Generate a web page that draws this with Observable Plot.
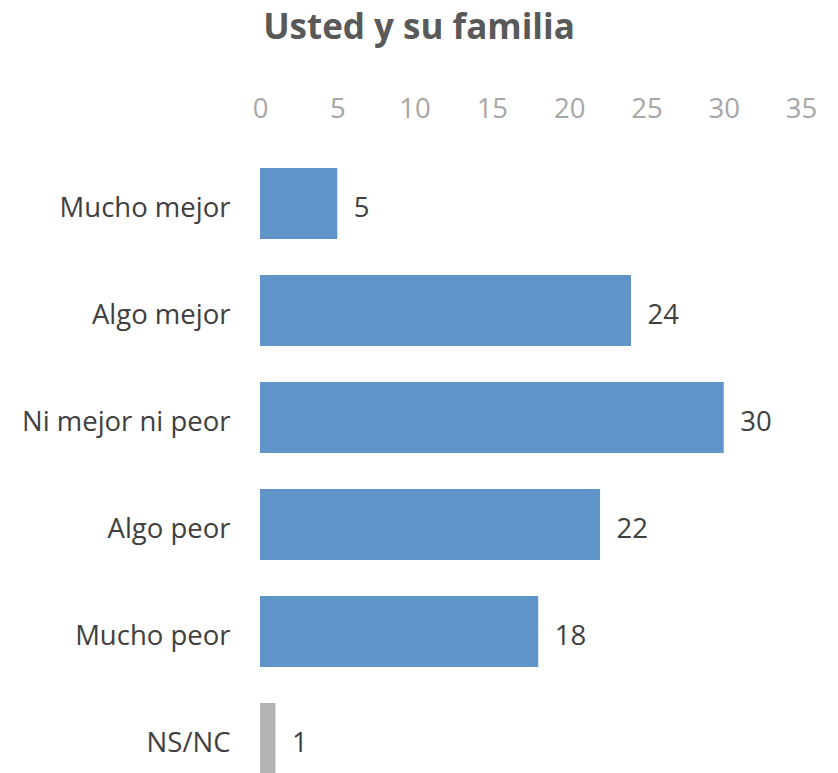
<!DOCTYPE html>
<html>
<head>
<meta charset="utf-8">
<script src="https://cdn.jsdelivr.net/npm/d3@7"></script>
<script src="https://cdn.jsdelivr.net/npm/@observablehq/plot@0.6"></script>
<style>
html, body { margin: 0; padding: 0; background: #fff; overflow: hidden; }
#wrap { position: relative; width: 838px; height: 773px; }
#title { position: absolute; left: 0; top: 2px; width: 838px; text-align: center;
  font-family: "Open Sans", sans-serif; font-weight: bold; font-size: 35px; color: #595959; }
#chart { position: absolute; left: 0; top: 0; }
</style>
</head>
<body>
<div id="wrap">
  <div id="chart"></div>
  <div id="title">Usted y su familia</div>
</div>
<script>
const categories = ["Mucho mejor", "Algo mejor", "Ni mejor ni peor", "Algo peor", "Mucho peor", "NS/NC"];
const values = [5, 24, 30, 22, 18, 1];
const barColors = ["#5f95c9", "#5f95c9", "#5f95c9", "#5f95c9", "#5f95c9", "#b4b4b4"];
const xTicks = [0, 5, 10, 15, 20, 25, 30, 35];
const titleText = "Usted y su familia";

const data = categories.map((c, i) => ({category: c, value: values[i], color: barColors[i]}));

const chart = Plot.plot({
  width: 838,
  height: 773,
  marginLeft: 260,
  marginRight: 37,
  marginTop: 121,
  marginBottom: 0,
  style: {fontFamily: "'Open Sans', sans-serif", fontSize: "27.5px", background: "transparent", overflow: "visible"},
  x: {domain: [0, 35], axis: null},
  y: {domain: categories, range: [130.5, 812], padding: 0.34, axis: null},
  marks: [
    Plot.axisX({anchor: "top", ticks: xTicks, tickSize: 0, tickPadding: 4, fill: "#a6a6a6", fontSize: 27.5, label: null}),
    Plot.axisY({anchor: "left", tickSize: 0, tickPadding: 30, fill: "#404040", fontSize: 27.5, dy: 4, label: null}),
    Plot.barX(data, {y: "category", x: "value", fill: "color"}),
    Plot.text(data, {y: "category", x: "value", text: d => String(d.value), textAnchor: "start", dx: 16, dy: 4, fill: "#404040", fontSize: 27.5})
  ]
});
document.getElementById("chart").appendChild(chart);
</script>
</body>
</html>
